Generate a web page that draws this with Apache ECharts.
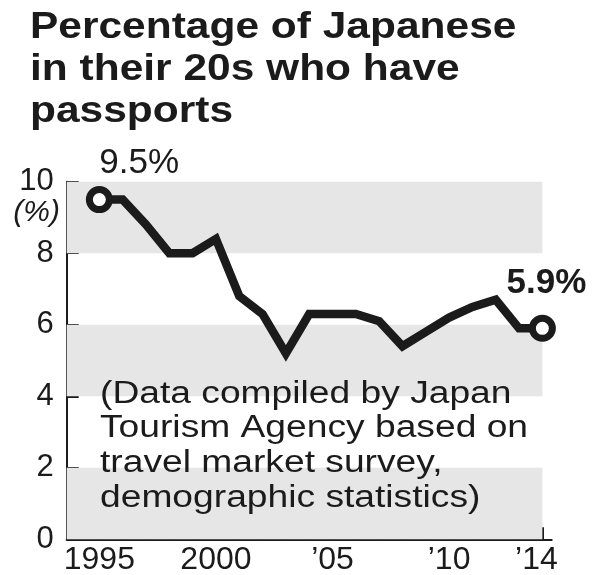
<!DOCTYPE html>
<html>
<head>
<meta charset="utf-8">
<title>Passport holders in their 20s</title>
<script src="https://cdn.jsdelivr.net/npm/echarts@6.0.0/dist/echarts.min.js"></script>
<style>
  html, body { margin: 0; padding: 0; background: #ffffff; }
  #chart { width: 592px; height: 575px; }
</style>
</head>
<body>
<div id="chart"></div>
<script>
// Survey years and the share of people in their 20s holding a passport (%)
const years = [1995, 1996, 1997, 1998, 1999, 2000, 2001, 2002, 2003, 2004,
               2005, 2006, 2007, 2008, 2009, 2010, 2011, 2012, 2013, 2014];
const shares = [9.5, 9.5, 8.8, 8.0, 8.0, 8.4, 6.8, 6.3, 5.2, 6.3,
                6.3, 6.3, 6.1, 5.4, 5.8, 6.2, 6.5, 6.7, 5.9, 5.9];

// Labelled years on the horizontal axis and the text shown for them
const xLabelYears = [1995, 2000, 2005, 2010, 2014];
const xLabelTexts = ['1995', '2000', '\u201905', '\u201910', '\u201914'];

// Vertical axis ticks
const yTicks = [0, 2, 4, 6, 8, 10];

// Shaded horizontal bands behind the line
const bandRanges = [[0, 2], [4, 6], [8, 10]];

const titleText = 'Percentage of Japanese\nin their 20s who have\npassports';
const noteText = '(Data compiled by Japan\nTourism Agency based on\ntravel market survey,\ndemographic statistics)';
const unitText = '(%)';

const INK = '#1b1b1b';
const BAND = '#e6e6e6';
const SANS = '"Liberation Sans", Arial, Helvetica, sans-serif';
const X_MIN = 1993.6;
const X_MAX = 2014.4;
const lastYear = years[years.length - 1];

const chart = echarts.init(document.getElementById('chart'), null, { renderer: 'canvas' });

const lineData = years.map((y, i) => {
  const item = { value: [y, shares[i]] };
  const isFirst = i === 0;
  const isLast = i === years.length - 1;
  if (isFirst || isLast) {
    item.symbol = 'circle';
    item.symbolSize = 20;
    item.itemStyle = { color: '#ffffff', borderColor: INK, borderWidth: 7 };
    item.label = isFirst
      ? { show: true, position: 'top', align: 'left', distance: 5,
          fontSize: 35, fontFamily: SANS, color: INK }
      : { show: true, position: 'top', align: 'center', distance: 14, offset: [4, 0],
          fontSize: 35, fontWeight: 'bold', fontFamily: SANS, color: INK };
  }
  return item;
});

// The final year label sits slightly left of its tick
const xLabelFormatter = v => {
  const text = xLabelTexts[xLabelYears.indexOf(v)];
  return v === lastYear ? '{end|' + text + '}' : text;
};

const option = {
  animation: false,
  backgroundColor: '#ffffff',
  grid: { left: 66.7, right: 40.3, top: 181.7, bottom: 35.7, outerBoundsMode: 'none' },
  xAxis: [
    {
      type: 'value', min: X_MIN, max: X_MAX, position: 'bottom',
      axisLine: { show: true, lineStyle: { color: INK, width: 2 } },
      axisTick: { show: true, inside: true, length: 6, customValues: years,
                  lineStyle: { color: INK, width: 2 } },
      axisLabel: {
        customValues: xLabelYears,
        formatter: xLabelFormatter,
        fontSize: 32, fontFamily: SANS, color: INK, margin: 5,
        rich: {
          end: { fontSize: 32, fontFamily: SANS, color: INK, padding: [0, 12, 0, 0] }
        }
      },
      splitLine: { show: false }
    },
    {
      type: 'value', min: X_MIN, max: X_MAX, position: 'bottom',
      axisLine: { show: false },
      axisTick: { show: true, inside: true, length: 12, customValues: xLabelYears,
                  lineStyle: { color: INK, width: 2 } },
      axisLabel: { show: false },
      splitLine: { show: false }
    }
  ],
  yAxis: {
    type: 'value', min: 0, max: 10, interval: 2,
    axisLine: { show: true, lineStyle: { color: INK, width: 2 } },
    axisTick: { show: true, inside: true, length: 12, customValues: yTicks,
                lineStyle: { color: INK, width: 2 } },
    axisLabel: { fontSize: 31, fontFamily: SANS, color: INK, margin: 13 },
    splitLine: { show: false }
  },
  graphic: [
    {
      type: 'text', x: 30, y: 7, scaleX: 1.18, z: 100,
      style: { text: titleText, font: 'bold 36px ' + SANS, lineHeight: 42, fill: INK }
    },
    {
      type: 'text', x: 100, y: 377, scaleX: 1.2, z: 100,
      style: { text: noteText, font: '31px ' + SANS, lineHeight: 34.6, fill: INK }
    },
    {
      type: 'text', x: 36.7, y: 212.5, z: 100,
      style: { text: unitText, font: 'italic 30px ' + SANS, fill: INK,
               align: 'center', verticalAlign: 'middle' }
    }
  ],
  series: [
    {
      type: 'line',
      xAxisIndex: 0,
      data: lineData,
      symbol: 'none',
      showSymbol: true,
      clip: false,
      z: 5,
      lineStyle: { color: INK, width: 8.5, join: 'miter' },
      label: { formatter: p => p.value[1] + '%' },
      markArea: {
        silent: true,
        itemStyle: { color: BAND },
        data: bandRanges.map(([lo, hi]) => [
          { coord: [X_MIN, lo] },
          { coord: [lastYear, hi] }
        ])
      }
    }
  ]
};

chart.setOption(option);
</script>
</body>
</html>
